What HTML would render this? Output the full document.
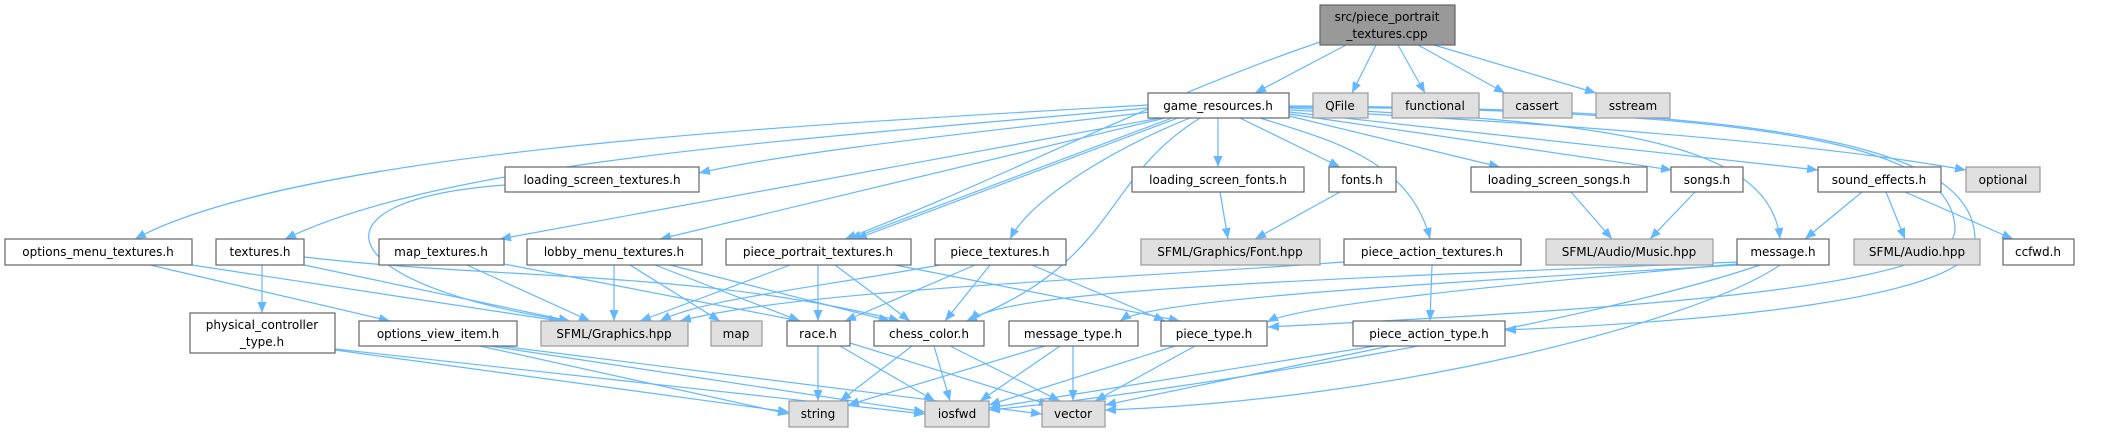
<!DOCTYPE html>
<html><head><meta charset="utf-8"><style>
html,body{margin:0;padding:0;background:#fff;}
svg{display:block;}
text{font-family:"DejaVu Sans","Liberation Sans",sans-serif;font-size:12px;fill:#000;}
.n{fill:#fff;stroke:#666;stroke-width:1.2}
.g{fill:#e0e0e0;stroke:#999;stroke-width:1.2}
.t{fill:#999;stroke:#666;stroke-width:1.2}
path.e{fill:none;stroke:#63b8ff;stroke-width:1.2;marker-end:url(#a)}
</style></head><body>
<svg width="2124" height="432" viewBox="0 0 2124 432" xmlns="http://www.w3.org/2000/svg">
<defs><marker id="a" markerUnits="userSpaceOnUse" markerWidth="12" markerHeight="9" refX="11" refY="4.5" orient="auto"><path d="M0,0 L11,4.5 L0,9 z" fill="#63b8ff"/></marker></defs>
<g>
<path class="e" d="M1346,45 L1255,93"/>
<path class="e" d="M1320,42 C1150,100 1000,180 845,239"/>
<path class="e" d="M1376,45 L1352,93"/>
<path class="e" d="M1398,45 L1425,93"/>
<path class="e" d="M1418,45 L1505,93"/>
<path class="e" d="M1434,45 L1596,93"/>
<path class="e" d="M1148,105 C800,125 300,150 135,239"/>
<path class="e" d="M1148,108 C800,140 450,160 285,239"/>
<path class="e" d="M1150,112 C1000,130 800,150 699,173"/>
<path class="e" d="M1160,118 L500,239"/>
<path class="e" d="M1165,118 L660,239"/>
<path class="e" d="M1172,118 L850,239"/>
<path class="e" d="M1178,118 L856,239"/>
<path class="e" d="M1190,118 C1110,150 1030,200 1010,239"/>
<path class="e" d="M1200,118 C1100,180 1120,260 966,321"/>
<path class="e" d="M1218,118 L1218,167"/>
<path class="e" d="M1240,118 L1340,167"/>
<path class="e" d="M1260,118 C1330,140 1410,160 1430,239"/>
<path class="e" d="M1289,116 L1500,167"/>
<path class="e" d="M1289,114 L1672,170"/>
<path class="e" d="M1289,112 L1818,170"/>
<path class="e" d="M1289,110 C1500,120 1800,140 1966,170"/>
<path class="e" d="M1289,108 C1600,120 1770,140 1780,239"/>
<path class="e" d="M1289,107 C1800,110 1955,150 1955,230 C1955,290 1600,310 1268,327"/>
<path class="e" d="M1289,106 C1800,108 1975,150 1975,240 C1975,300 1700,322 1505,330"/>
<path class="e" d="M505,185 C300,200 330,285 570,321"/>
<path class="e" d="M192,265 L560,321"/>
<path class="e" d="M150,265 L390,321"/>
<path class="e" d="M262,265 L262,313"/>
<path class="e" d="M304,265 L570,321"/>
<path class="e" d="M304,257 C500,280 700,270 900,321"/>
<path class="e" d="M467,265 L590,321"/>
<path class="e" d="M504,264 L800,321"/>
<path class="e" d="M614,265 L614,321"/>
<path class="e" d="M630,265 L720,321"/>
<path class="e" d="M655,265 L800,321"/>
<path class="e" d="M670,265 L890,321"/>
<path class="e" d="M790,265 L640,321"/>
<path class="e" d="M818,265 L818,321"/>
<path class="e" d="M835,265 L910,321"/>
<path class="e" d="M895,265 L1180,321"/>
<path class="e" d="M940,265 C800,290 700,300 660,321"/>
<path class="e" d="M975,265 L845,321"/>
<path class="e" d="M990,265 L945,321"/>
<path class="e" d="M1032,265 L1165,321"/>
<path class="e" d="M1220,192 L1228,239"/>
<path class="e" d="M1340,192 L1255,239"/>
<path class="e" d="M1344,262 C1100,280 800,290 680,321"/>
<path class="e" d="M1432,265 L1430,321"/>
<path class="e" d="M1571,192 L1612,239"/>
<path class="e" d="M1695,192 L1650,239"/>
<path class="e" d="M1862,192 L1805,239"/>
<path class="e" d="M1886,192 L1905,239"/>
<path class="e" d="M1905,192 L2013,239"/>
<path class="e" d="M1737,262 C1300,280 1000,290 970,321"/>
<path class="e" d="M1737,265 C1400,285 1150,300 1120,321"/>
<path class="e" d="M1737,264 C1500,285 1300,305 1267,322"/>
<path class="e" d="M1760,265 C1600,320 1200,390 989,410"/>
<path class="e" d="M1780,265 C1700,320 1400,400 1105,410"/>
<path class="e" d="M335,350 L789,412"/>
<path class="e" d="M335,349 L925,414"/>
<path class="e" d="M480,346 L789,414"/>
<path class="e" d="M490,346 L925,412"/>
<path class="e" d="M500,346 L1042,414"/>
<path class="e" d="M818,346 L818,401"/>
<path class="e" d="M840,346 L935,401"/>
<path class="e" d="M850,343 L1050,405"/>
<path class="e" d="M912,346 L840,401"/>
<path class="e" d="M934,346 L950,401"/>
<path class="e" d="M950,346 L1060,401"/>
<path class="e" d="M1045,346 L848,405"/>
<path class="e" d="M1060,346 L980,401"/>
<path class="e" d="M1073,346 L1073,401"/>
<path class="e" d="M1175,346 L989,405"/>
<path class="e" d="M1195,346 L1095,401"/>
<path class="e" d="M1375,346 L989,408"/>
<path class="e" d="M1390,346 L1105,405"/>
</g>
<g text-anchor="middle">
<rect class="t" x="1320" y="5" width="135" height="40"/><text x="1387" y="21">src/piece_portrait</text><text x="1387" y="38">_textures.cpp</text>
<rect class="n" x="1148" y="93" width="141" height="25"/><text x="1218" y="110">game_resources.h</text>
<rect class="g" x="1313" y="93" width="55" height="25"/><text x="1340" y="110">QFile</text>
<rect class="g" x="1392" y="93" width="87" height="25"/><text x="1435" y="110">functional</text>
<rect class="g" x="1503" y="93" width="69" height="25"/><text x="1537" y="110">cassert</text>
<rect class="g" x="1596" y="93" width="74" height="25"/><text x="1633" y="110">sstream</text>
<rect class="n" x="505" y="167" width="194" height="25"/><text x="602" y="184">loading_screen_textures.h</text>
<rect class="n" x="1132" y="167" width="172" height="25"/><text x="1218" y="184">loading_screen_fonts.h</text>
<rect class="n" x="1329" y="167" width="67" height="25"/><text x="1362" y="184">fonts.h</text>
<rect class="n" x="1471" y="167" width="176" height="25"/><text x="1559" y="184">loading_screen_songs.h</text>
<rect class="n" x="1671" y="167" width="72" height="25"/><text x="1707" y="184">songs.h</text>
<rect class="n" x="1818" y="167" width="123" height="25"/><text x="1879" y="184">sound_effects.h</text>
<rect class="g" x="1966" y="167" width="74" height="25"/><text x="2003" y="184">optional</text>
<rect class="n" x="5" y="239" width="187" height="26"/><text x="98" y="256">options_menu_textures.h</text>
<rect class="n" x="216" y="239" width="88" height="26"/><text x="260" y="256">textures.h</text>
<rect class="n" x="379" y="239" width="125" height="26"/><text x="441" y="256">map_textures.h</text>
<rect class="n" x="527" y="239" width="175" height="26"/><text x="614" y="256">lobby_menu_textures.h</text>
<rect class="n" x="726" y="239" width="185" height="26"/><text x="818" y="256">piece_portrait_textures.h</text>
<rect class="n" x="935" y="239" width="131" height="26"/><text x="1000" y="256">piece_textures.h</text>
<rect class="g" x="1141" y="239" width="179" height="26"/><text x="1230" y="256">SFML/Graphics/Font.hpp</text>
<rect class="n" x="1344" y="239" width="177" height="26"/><text x="1432" y="256">piece_action_textures.h</text>
<rect class="g" x="1546" y="239" width="167" height="26"/><text x="1629" y="256">SFML/Audio/Music.hpp</text>
<rect class="n" x="1737" y="239" width="92" height="26"/><text x="1783" y="256">message.h</text>
<rect class="g" x="1854" y="239" width="126" height="26"/><text x="1917" y="256">SFML/Audio.hpp</text>
<rect class="n" x="2003" y="239" width="71" height="26"/><text x="2038" y="256">ccfwd.h</text>
<rect class="n" x="190" y="313" width="145" height="40"/><text x="262" y="329">physical_controller</text><text x="262" y="346">_type.h</text>
<rect class="n" x="359" y="321" width="158" height="25"/><text x="438" y="338">options_view_item.h</text>
<rect class="g" x="541" y="321" width="147" height="25"/><text x="614" y="338">SFML/Graphics.hpp</text>
<rect class="g" x="711" y="321" width="51" height="25"/><text x="736" y="338">map</text>
<rect class="n" x="787" y="321" width="63" height="25"/><text x="818" y="338">race.h</text>
<rect class="n" x="874" y="321" width="110" height="25"/><text x="929" y="338">chess_color.h</text>
<rect class="n" x="1009" y="321" width="129" height="25"/><text x="1073" y="338">message_type.h</text>
<rect class="n" x="1161" y="321" width="106" height="25"/><text x="1214" y="338">piece_type.h</text>
<rect class="n" x="1353" y="321" width="152" height="25"/><text x="1429" y="338">piece_action_type.h</text>
<rect class="g" x="789" y="401" width="59" height="26"/><text x="818" y="418">string</text>
<rect class="g" x="925" y="401" width="64" height="26"/><text x="957" y="418">iosfwd</text>
<rect class="g" x="1042" y="401" width="63" height="26"/><text x="1073" y="418">vector</text>
</g>
</svg>
</body></html>
